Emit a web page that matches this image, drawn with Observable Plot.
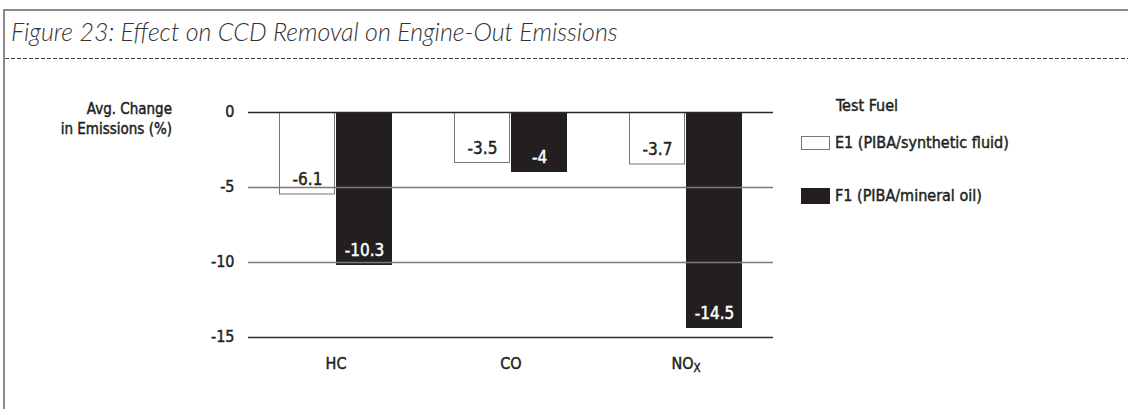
<!DOCTYPE html>
<html>
<head>
<meta charset="utf-8">
<script src="https://cdn.jsdelivr.net/npm/d3@7"></script>
<script src="https://cdn.jsdelivr.net/npm/@observablehq/plot@0.6"></script>
<style>
  body { margin: 0; background: #fff; }
  #wrap { position: relative; width: 1128px; height: 409px; overflow: hidden; background: #fff; color: #231f20; }
  #frame { position: absolute; left: 3px; top: 9px; right: -10px; bottom: -10px; border-left: 2px solid #8a8a8a; border-top: 2px solid #8a8a8a; }
  #title { position: absolute; left: 11px; top: 16px; font-family: Lato, "Open Sans", sans-serif; font-style: italic; font-weight: 300; font-size: 25px; color: #333; white-space: nowrap; }
  #dash { position: absolute; left: 5px; top: 57px; }
  #ytitle { position: absolute; left: 0; width: 172px; top: 99px; text-align: right; font-family: "Liberation Sans Narrow", "DejaVu Sans Condensed", sans-serif; font-size: 15px; line-height: 20px; -webkit-text-stroke: 0.45px #231f20; }
  #chart { position: absolute; left: 0; top: 0; }
  #chart svg text { stroke: currentColor; stroke-width: 0.45px; }
  .leg { position: absolute; font-family: "Liberation Sans Narrow", "DejaVu Sans Condensed", sans-serif; font-size: 16px; white-space: nowrap; -webkit-text-stroke: 0.45px #231f20; }
  .sw { position: absolute; box-sizing: border-box; }
</style>
</head>
<body>
<div id="wrap">
  <div id="frame"></div>
  <div id="title"></div>
  <svg id="dash" width="1123" height="4"><line x1="0" x2="1123" y1="1.5" y2="1.5" stroke="#444" stroke-width="1.2" stroke-dasharray="4,2"></line></svg>
  <div id="ytitle"></div>
  <div id="chart"></div>
  <div id="legend"></div>
</div>
<script>
// ---- data ----
const title = "Figure 23: Effect on CCD Removal on Engine-Out Emissions";
const categories = ["HC", "CO", "NOx"];
const seriesKeys = ["E1", "F1"];
const seriesNames = ["E1  (PIBA/synthetic fluid)", "F1  (PIBA/mineral oil)"];
const e1Values = [-5.5, -3.4, -3.5];      // bar ends as drawn
const f1Values = [-10.2, -4.0, -14.4];
const e1Labels = ["-6.1", "-3.5", "-3.7"]; // printed labels
const f1Labels = ["-10.3", "-4", "-14.5"];
const yTicks = [0, -5, -10, -15];
const yTitleLines = ["Avg. Change", "in Emissions (%)"];
const legendTitle = "Test Fuel";

// ---- build tables ----
const e1Rows = categories.map((c, i) => ({cat: c, key: seriesKeys[0], value: e1Values[i], label: e1Labels[i]}));
const f1Rows = categories.map((c, i) => ({cat: c, key: seriesKeys[1], value: f1Values[i], label: f1Labels[i]}));
const ink = "#231f20";
const font = "'Liberation Sans Narrow', 'DejaVu Sans Condensed', sans-serif";

document.getElementById("title").textContent = title;
document.getElementById("ytitle").innerHTML = yTitleLines.map(s => `<div>${s}</div>`).join("");

const lastTick = yTicks[yTicks.length - 1];
const chart = Plot.plot({
  width: 1128,
  height: 409,
  marginTop: 112,
  marginBottom: 72,
  marginLeft: 247,
  marginRight: 355,
  style: {fontFamily: font, fontSize: "16px", color: ink, background: "transparent", overflow: "visible"},
  fx: {domain: categories, padding: 0, label: null, axis: "bottom", tickSize: 0, tickPadding: 20},
  x: {domain: seriesKeys, paddingInner: 0.02, paddingOuter: 0.52, axis: null},
  y: {domain: [lastTick, 0], ticks: yTicks, tickSize: 0, tickPadding: 14, label: null, tickFormat: d => String(d)},
  marks: [
    Plot.barY(e1Rows, {fx: "cat", x: "key", y: "value", fill: "white", stroke: "#777", strokeWidth: 1, inset: 0.5}),
    Plot.barY(f1Rows, {fx: "cat", x: "key", y: "value", fill: ink}),
    Plot.ruleY(yTicks.filter(t => t !== 0 && t !== lastTick), {stroke: "#7a7a7a", strokeWidth: 1.5}),
    Plot.ruleY(yTicks.filter(t => t === 0 || t === lastTick), {stroke: "#2a2a2a", strokeWidth: 1.5}),
    Plot.text(e1Rows, {fx: "cat", x: "key", y: "value", text: "label", dy: -15, fill: ink, fontSize: 17}),
    Plot.text(f1Rows, {fx: "cat", x: "key", y: "value", text: "label", dy: -15, fill: "white", fontSize: 17})
  ]
});
document.getElementById("chart").appendChild(chart);

// y tick labels sit just above their gridlines
chart.querySelectorAll("g[aria-label^='y-axis'] text").forEach(t => {
  t.setAttribute("dy", "-0.05em");
});
// white labels on black bars get a white outline stroke
chart.querySelectorAll("text").forEach(t => {
  const f = t.getAttribute("fill") || (t.parentNode && t.parentNode.getAttribute && t.parentNode.getAttribute("fill"));
  if (f === "white") t.style.stroke = "white";
});

// subscript for NOx
chart.querySelectorAll("text").forEach(t => {
  if (t.textContent === "NOx") {
    t.textContent = "";
    const a = document.createElementNS("http://www.w3.org/2000/svg", "tspan");
    a.textContent = "NO";
    const b = document.createElementNS("http://www.w3.org/2000/svg", "tspan");
    b.textContent = "X";
    b.setAttribute("dy", "0.3em");
    b.setAttribute("font-size", "0.72em");
    t.appendChild(a); t.appendChild(b);
  }
});

// legend
const leg = document.getElementById("legend");
const lt = document.createElement("div");
lt.className = "leg"; lt.textContent = legendTitle;
lt.style.left = "836px"; lt.style.top = "96px";
leg.appendChild(lt);
const rows = [
  {y: 136, h: 14, fill: "white", border: "1px solid #777", name: seriesNames[0], ty: 133},
  {y: 188, h: 16, fill: ink, border: "none", name: seriesNames[1], ty: 186}
];
rows.forEach(r => {
  const s = document.createElement("div");
  s.className = "sw";
  s.style.left = "801px"; s.style.top = r.y + "px"; s.style.width = "29px"; s.style.height = r.h + "px";
  s.style.background = r.fill; s.style.border = r.border;
  leg.appendChild(s);
  const t = document.createElement("div");
  t.className = "leg"; t.textContent = r.name;
  t.style.left = "835px"; t.style.top = r.ty + "px";
  leg.appendChild(t);
});
</script>
</body>
</html>
